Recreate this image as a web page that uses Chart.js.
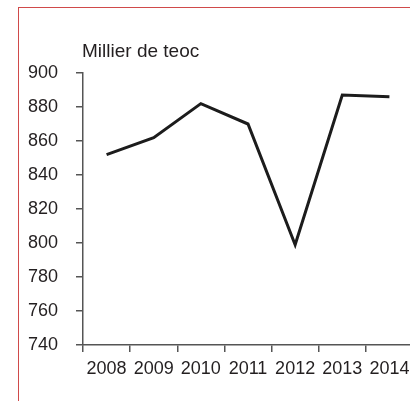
<!DOCTYPE html>
<html lang="fr">
<head>
  <meta charset="UTF-8">
  <title>Millier de teoc</title>
  <script src="https://cdn.jsdelivr.net/npm/chart.js@4.4.1/dist/chart.umd.min.js"></script>
  <style>
    html, body {
      margin: 0;
      padding: 0;
      width: 410px;
      height: 401px;
      overflow: hidden;
      background: #fff;
    }
    #frame {
      position: absolute;
      left: 18px;
      top: 7px;
      width: 420px;
      height: 420px;
      border-left: 1px solid #d04a4a;
      border-top: 1px solid #d04a4a;
    }
    #chart {
      position: absolute;
      left: 0;
      top: 0;
    }
  </style>
</head>
<body>
  <div id="frame"></div>
  <canvas id="chart" width="420" height="401"></canvas>

  <script>
    const years = ['2008', '2009', '2010', '2011', '2012', '2013', '2014'];
    const values = [852, 862, 882, 870, 799, 887, 886];
    const unitLabel = 'Millier de teoc';

    const textColor = '#231f20';
    const axisColor = '#555';
    const fontFamily = '"Liberation Sans", Arial, sans-serif';

    // unit label drawn above the top of the y axis
    const unitPlugin = {
      id: 'unitLabel',
      afterDraw(chart) {
        const ctx = chart.ctx;
        ctx.save();
        ctx.fillStyle = textColor;
        ctx.font = '19px ' + fontFamily;
        ctx.textAlign = 'left';
        ctx.textBaseline = 'alphabetic';
        ctx.fillText(unitLabel, chart.chartArea.left - 1, 57);
        ctx.restore();
      }
    };

    new Chart(document.getElementById('chart'), {
      type: 'line',
      data: {
        labels: years,
        datasets: [{
          data: values,
          borderColor: '#1c1c1c',
          borderWidth: 3,
          pointRadius: 0,
          tension: 0,
          fill: false
        }]
      },
      options: {
        responsive: false,
        animation: false,
        layout: { padding: { top: 73, right: 7, left: 0, bottom: 0 } },
        plugins: {
          legend: { display: false },
          tooltip: { enabled: false }
        },
        scales: {
          x: {
            offset: true,
            grid: {
              offset: true,
              drawOnChartArea: false,
              drawTicks: true,
              tickLength: 7,
              color: axisColor,
              lineWidth: 1.5
            },
            border: { display: true, color: axisColor, width: 1.5 },
            ticks: {
              color: textColor,
              font: { family: fontFamily, size: 18 },
              padding: 6,
              maxRotation: 0,
              autoSkip: false
            },
            afterFit(scale) { scale.height = 56; }
          },
          y: {
            min: 740,
            max: 900,
            grid: {
              drawOnChartArea: false,
              drawTicks: true,
              tickLength: 7,
              color: axisColor,
              lineWidth: 1.5
            },
            border: { display: true, color: axisColor, width: 1.5 },
            ticks: {
              stepSize: 20,
              color: textColor,
              font: { family: fontFamily, size: 18 },
              padding: 18
            },
            afterFit(scale) { scale.width = 83; }
          }
        }
      },
      plugins: [unitPlugin]
    });
  </script>
</body>
</html>
